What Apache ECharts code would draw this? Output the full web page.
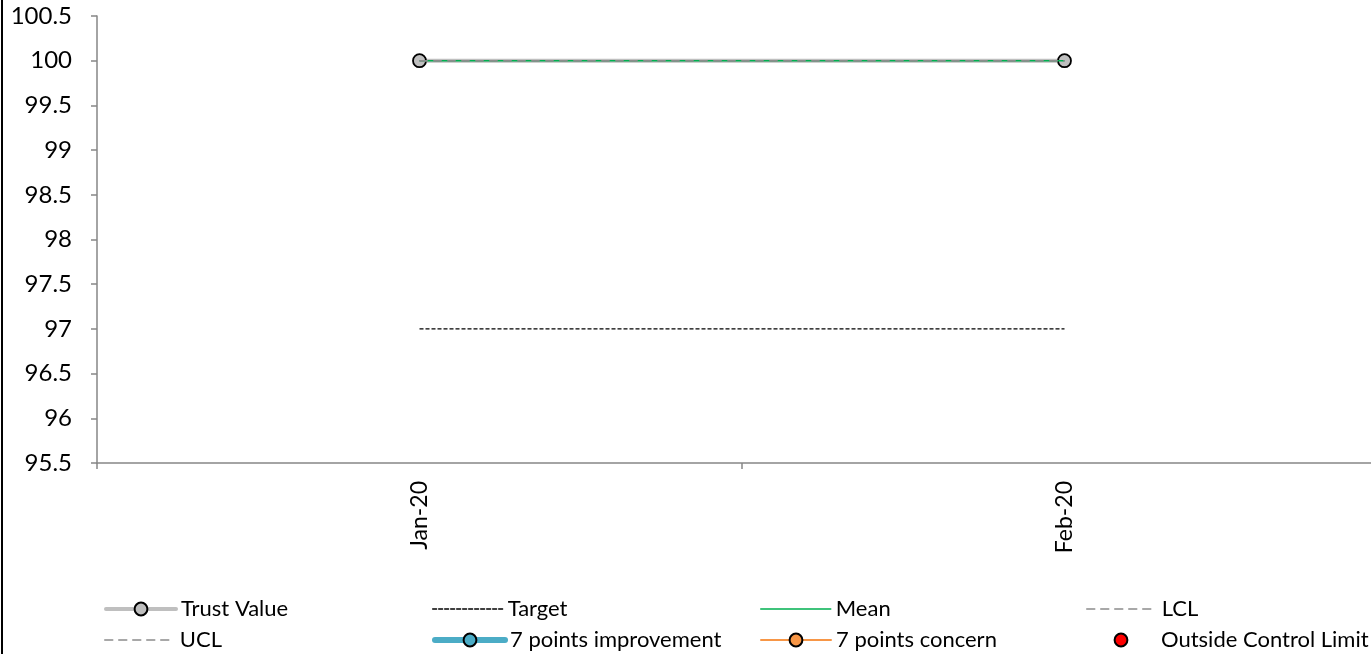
<!DOCTYPE html>
<html><head><meta charset="utf-8">
<script src="https://cdn.jsdelivr.net/npm/echarts@6/dist/echarts.min.js"></script>
<style>html,body{margin:0;padding:0;background:#fff}#c{width:1371px;height:654px}</style>
</head><body><div id="c"></div>
<script>
const categories = ['Jan-20', 'Feb-20'];
const trustValue = [100, 100];
const target = [97, 97];
const mean = [100, 100];
const lcl = [100, 100];
const ucl = [100, 100];
const improvement = [null, null];
const concern = [null, null];
const outside = [null, null];
const yTicks = {min: 95.5, max: 100.5, interval: 0.5};

const FONT = 'Lato, "Open Sans", sans-serif';
const chart = echarts.init(document.getElementById('c'));
const legendPos = [
  ['Trust Value', 104, 598, 4, true], ['Target', 432, 598, 1.3, false], ['Mean', 760, 598, 1.5, false], ['LCL', 1086, 598, 1.5, false],
  ['UCL', 104, 629, 1.5, false], ['7 points improvement', 432, 629, 6, true], ['7 points concern', 760, 629, 2, true], ['Outside Control Limit', 1086, 629, 0, true]
];
chart.setOption({
  animation: false,
  textStyle: {fontFamily: FONT},
  graphic: [{type: 'rect', left: 1, top: 0, shape: {width: 2, height: 654}, style: {fill: '#000'}}],
  legend: legendPos.map(([n, x, y, w, sym]) => ({
    data: [n], left: x, top: y, itemWidth: 70, itemHeight: 16, itemGap: 0, padding: 0,
    lineStyle: {width: w, cap: 'round'},
    itemStyle: sym ? {} : {opacity: 0},
    textStyle: {fontFamily: FONT, fontSize: 22, color: '#000'}
  })),
  grid: {left: 97, top: 16, width: 1290, bottom: 191, containLabel: false, outerBoundsMode: 'none'},
  xAxis: {
    type: 'category', data: categories, boundaryGap: true,
    axisLine: {lineStyle: {color: '#868686', width: 1.5}},
    axisTick: {show: true, length: 6, lineStyle: {color: '#868686', width: 1.5}},
    axisLabel: {rotate: 90, fontSize: 23, color: '#000', margin: 18, fontFamily: FONT}
  },
  yAxis: {
    type: 'value', min: yTicks.min, max: yTicks.max, interval: yTicks.interval,
    splitLine: {show: false},
    axisLine: {show: true, lineStyle: {color: '#868686', width: 1.5}},
    axisTick: {show: true, length: 6, lineStyle: {color: '#868686', width: 1.5}},
    axisLabel: {fontSize: 24, color: '#000', margin: 25, fontFamily: FONT}
  },
  series: [
    {name: 'Trust Value', type: 'line', data: trustValue, z: 2, symbol: 'circle', symbolSize: 13,
     lineStyle: {color: '#BFBFBF', width: 4, cap: 'round'},
     itemStyle: {color: '#BFBFBF', borderColor: '#000', borderWidth: 1.8}},
    {name: 'Target', type: 'line', data: target, symbol: 'none', z: 3,
     lineStyle: {color: '#000', width: 1.3, type: [4, 2]}, itemStyle: {color: '#000'}},
    {name: 'Mean', type: 'line', data: mean, symbol: 'none', z: 3,
     lineStyle: {color: '#00B050', width: 1.5}, itemStyle: {color: '#00B050'}},
    {name: 'LCL', type: 'line', data: lcl, symbol: 'none', z: 3,
     lineStyle: {color: '#8C8C8C', width: 1.5, type: [8, 6]}, itemStyle: {color: '#8C8C8C'}},
    {name: 'UCL', type: 'line', data: ucl, symbol: 'none', z: 3,
     lineStyle: {color: '#8C8C8C', width: 1.5, type: [8, 6]}, itemStyle: {color: '#8C8C8C'}},
    {name: '7 points improvement', type: 'line', data: improvement, symbol: 'circle', symbolSize: 13,
     lineStyle: {color: '#4BACC6', width: 6, cap: 'round'},
     itemStyle: {color: '#4BACC6', borderColor: '#000', borderWidth: 1.8}},
    {name: '7 points concern', type: 'line', data: concern, symbol: 'circle', symbolSize: 13,
     lineStyle: {color: '#F79646', width: 2},
     itemStyle: {color: '#F79646', borderColor: '#000', borderWidth: 1.8}},
    {name: 'Outside Control Limit', type: 'line', data: outside, symbol: 'circle', symbolSize: 13,
     lineStyle: {color: '#FF0000', width: 0},
     itemStyle: {color: '#FF0000', borderColor: '#000', borderWidth: 1.8}}
  ]
});
</script></body></html>
